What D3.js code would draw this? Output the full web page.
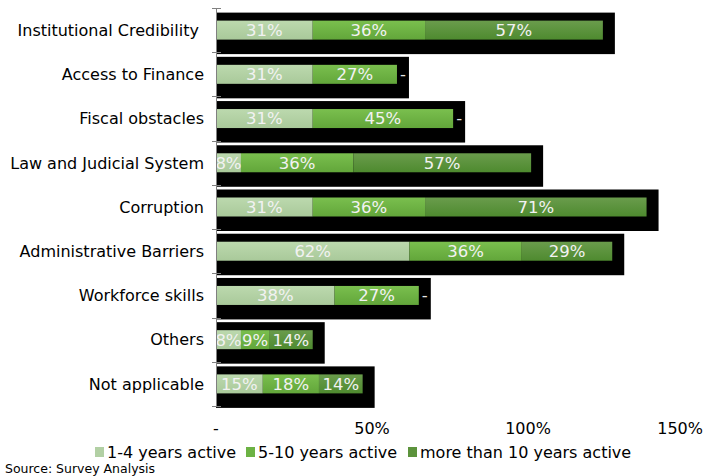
<!DOCTYPE html>
<html>
<head>
<meta charset="utf-8">
<script src="https://cdn.jsdelivr.net/npm/d3@7"></script>
<style>
  html, body { margin: 0; padding: 0; background: #fff; }
  svg { display: block; font-family: "DejaVu Sans", Verdana, sans-serif; }
  .cat { white-space: pre; }
</style>
</head>
<body>
<svg id="chart" width="704" height="476"></svg>
<script>
// Survey: obstacles reported, split by how long the firm has been active (%)
const categories = [
  "Institutional Credibility ",
  "Access to Finance",
  "Fiscal obstacles",
  "Law and Judicial System",
  "Corruption",
  "Administrative Barriers",
  "Workforce skills",
  "Others",
  "Not applicable"
];
const seriesNames = ["1-4 years active", "5-10 years active", "more than 10 years active"];
const years1to4   = [31, 31, 31,  8, 31, 62, 38,  8, 15];
const years5to10  = [36, 27, 45, 36, 36, 36, 27,  9, 18];
const yearsOver10 = [57,  0,  0, 57, 71, 29,  0, 14, 14];
const xTicks = [0, 50, 100, 150];
const xTickLabels = ["-", "50%", "100%", "150%"];

const seriesValues = [years1to4, years5to10, yearsOver10];
const colorsTop = ["#bcd9ae", "#7abf4e", "#6a9c4c"];
const colorsBottom = ["#a9c99a", "#62a63a", "#4e8a2f"];
const legendColors = ["#b2d0a4", "#6cb244", "#5c933c"];

const rows = categories.map((c, i) => {
  const o = { category: c };
  seriesNames.forEach((s, j) => { o[s] = seriesValues[j][i]; });
  return o;
});
const stacked = d3.stack().keys(seriesNames)(rows);

const svg = d3.select("#chart");
const W = 704;
const x = d3.scaleLinear().domain([0, 150]).range([216, 684]);
const y = d3.scaleBand().domain(categories).range([8, 406]).paddingInner(0).paddingOuter(0);

// gradients for the bar segments
const defs = svg.append("defs");
seriesNames.forEach((s, j) => {
  const g = defs.append("linearGradient").attr("id", "grad" + j)
    .attr("x1", 0).attr("y1", 0).attr("x2", 0).attr("y2", 1);
  g.append("stop").attr("offset", "0%").attr("stop-color", colorsTop[j]);
  g.append("stop").attr("offset", "100%").attr("stop-color", colorsBottom[j]);
});

const barH = 19;
const cy = d => y(d) + y.bandwidth() / 2;

// black shadow panels behind each bar
svg.append("g").selectAll("rect").data(rows).join("rect")
  .attr("x", x(0))
  .attr("y", d => cy(d.category) - 17.5)
  .attr("width", d => x(seriesNames.reduce((a, s) => a + d[s], 0)) - x(0) + 12)
  .attr("height", 41.5)
  .attr("fill", "#000");

// stacked segments
const segG = svg.append("g");
stacked.forEach((layer, j) => {
  segG.append("g").selectAll("rect").data(layer).join("rect")
    .attr("x", d => x(d[0]))
    .attr("y", d => cy(d.data.category) - barH / 2)
    .attr("width", d => x(d[1]) - x(d[0]))
    .attr("height", barH)
    .attr("fill", `url(#grad${j})`);
});

// value labels
const labG = svg.append("g").attr("font-size", 16.5);
stacked.forEach((layer, j) => {
  layer.forEach(d => {
    const v = d[1] - d[0];
    const ly = cy(d.data.category);
    if (v > 0) {
      labG.append("text")
        .attr("x", (x(d[0]) + x(d[1])) / 2)
        .attr("y", ly)
        .attr("dy", "0.36em")
        .attr("text-anchor", "middle")
        .attr("fill", "#f2f2f2")
        .text(v + "%");
    } else {
      labG.append("text")
        .attr("x", x(d[1]) + 6)
        .attr("y", ly)
        .attr("dy", "0.36em")
        .attr("text-anchor", "middle")
        .attr("fill", "#e6e6e6")
        .text("-");
    }
  });
});

// category axis
const yAxis = svg.append("g");
yAxis.append("line").attr("x1", 216.5).attr("x2", 216.5).attr("y1", 8).attr("y2", 406)
  .attr("stroke", "#808080").attr("stroke-width", 1);
d3.range(categories.length + 1).forEach(i => {
  const ty = Math.round(8 + i * y.bandwidth()) + 0.5;
  yAxis.append("line").attr("x1", 212).attr("x2", 221).attr("y1", ty).attr("y2", ty)
    .attr("stroke", "#808080");
});
svg.append("g").selectAll("text").data(categories).join("text")
  .attr("class", "cat")
  .attr("x", 204)
  .attr("y", d => cy(d))
  .attr("dy", "0.36em")
  .attr("text-anchor", "end")
  .attr("font-size", 16)
  .attr("fill", "#000")
  .text(d => d);

// value axis labels (kept inside the right edge)
svg.append("g").selectAll("text").data(xTicks).join("text")
  .attr("y", 428)
  .attr("dy", "0.36em")
  .attr("text-anchor", "middle")
  .attr("font-size", 16)
  .attr("fill", "#000")
  .text((d, i) => xTickLabels[i])
  .attr("x", function(d) {
    const half = this.getComputedTextLength() / 2;
    return Math.min(x(d), W - 1 - half);
  });

// legend
const legendX = [95, 246, 408];
const lg = svg.append("g");
seriesNames.forEach((s, j) => {
  lg.append("rect").attr("x", legendX[j]).attr("y", 447).attr("width", 9).attr("height", 10)
    .attr("fill", legendColors[j]);
  lg.append("text").attr("x", legendX[j] + 12).attr("y", 452).attr("dy", "0.36em")
    .attr("font-size", 16).attr("fill", "#000").text(s);
});

// source note
svg.append("text").attr("x", 5).attr("y", 473).attr("font-size", 12.5)
  .attr("fill", "#000").text("Source: Survey Analysis");
</script>
</body>
</html>
